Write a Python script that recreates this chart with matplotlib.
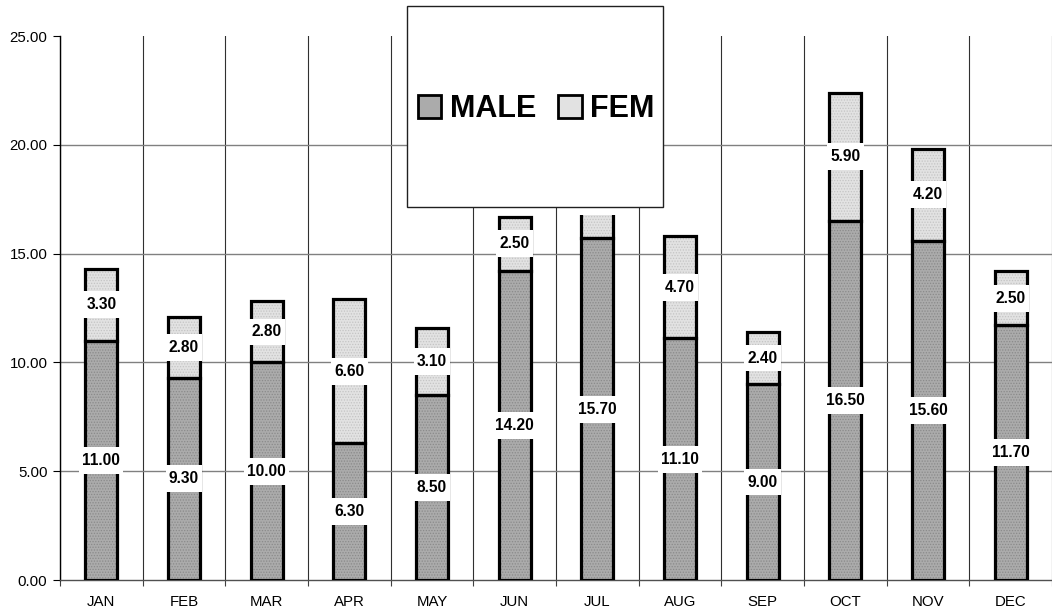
import matplotlib
matplotlib.use("Agg")
import matplotlib.pyplot as plt
import numpy as np
from matplotlib.patches import Patch, Rectangle
from matplotlib.path import Path

months = ["JAN", "FEB", "MAR", "APR", "MAY", "JUN", "JUL", "AUG", "SEP", "OCT", "NOV", "DEC"]
male = [11.00, 9.30, 10.00, 6.30, 8.50, 14.20, 15.70, 11.10, 9.00, 16.50, 15.60, 11.70]
fem = [3.30, 2.80, 2.80, 6.60, 3.10, 2.50, 3.40, 4.70, 2.40, 5.90, 4.20, 2.50]
yticks = [0, 5, 10, 15, 20, 25]
series_names = ["MALE", "FEM"]

plt.rcParams['font.family'] = ['Liberation Sans', 'DejaVu Sans']
plt.rcParams['hatch.linewidth'] = 0.6

MALE_C = "#ababab"
FEM_C = "#e2e2e2"
MALE_H = "#8a8a8a"
FEM_H = "#c4c4c4"

fig = plt.figure(figsize=(10.52, 6.13), dpi=100)
ax = fig.add_axes([60 / 1052, 33 / 613, 992 / 1052, 544 / 613])

x = np.arange(len(months))
w = 0.39
# fills with dotted texture
ax.bar(x, male, width=w, color=MALE_C, linewidth=0, zorder=2)
ax.bar(x, male, width=w, color="none", edgecolor=MALE_H, hatch="......", linewidth=0, zorder=2.5)
ax.bar(x, fem, width=w, bottom=male, color=FEM_C, linewidth=0, zorder=2)
ax.bar(x, fem, width=w, bottom=male, color="none", edgecolor=FEM_H, hatch="......", linewidth=0, zorder=2.5)
# outlines
ax.bar(x, male, width=w, color="none", edgecolor="black", linewidth=2.3, zorder=3)
ax.bar(x, fem, width=w, bottom=male, color="none", edgecolor="black", linewidth=2.3, zorder=3)


def label_box(x0, y0, width, height, mutation_size):
    px = 0.2 * mutation_size
    py = 0.38 * mutation_size
    verts = [(x0 - px, y0 - py), (x0 + width + px, y0 - py),
             (x0 + width + px, y0 + height + py), (x0 - px, y0 + height + py),
             (x0 - px, y0 - py)]
    codes = [Path.MOVETO, Path.LINETO, Path.LINETO, Path.LINETO, Path.CLOSEPOLY]
    return Path(verts, codes)


for xi, m, f in zip(x, male, fem):
    for val, ypos in ((m, m / 2), (f, m + f / 2)):
        ax.text(xi, ypos, f"{val:.2f}", ha="center", va="center", fontsize=11.2,
                fontweight="bold", zorder=5,
                bbox=dict(boxstyle=label_box, facecolor="white", edgecolor="none"))

ax.set_xlim(-0.5, len(months) - 0.5)
ax.set_ylim(0, 25)
ax.set_yticks(yticks)
ax.set_yticklabels([f"{v:.2f}" for v in yticks])
ax.set_xticks(x)
ax.set_xticklabels(months)
ax.set_xticks(np.arange(len(months) + 1) - 0.5, minor=True)

ax.tick_params(axis="x", which="major", length=0, pad=11, labelsize=10.8)
ax.tick_params(axis="x", which="minor", length=4, width=0.8, color="#404040", direction="out")
ax.tick_params(axis="y", which="major", length=5, width=0.8, pad=4, labelsize=10.8, direction="out")

ax.grid(axis="y", which="major", color="#808080", linewidth=1.0, zorder=0)
ax.grid(axis="x", which="minor", color="#303030", linewidth=0.8, zorder=0)
ax.set_axisbelow(True)
ygl = ax.yaxis.get_gridlines()
ygl[0].set_visible(False)
ygl[-1].set_visible(False)

for s in ("top", "right"):
    ax.spines[s].set_visible(False)
ax.spines["left"].set_color("black")
ax.spines["left"].set_linewidth(1.0)
ax.spines["bottom"].set_color("#505050")
ax.spines["bottom"].set_linewidth(1.0)

# legend box
fig.patches.append(Rectangle((407 / 1052, 1 - 207 / 613), 256 / 1052, 201 / 613,
                             transform=fig.transFigure, facecolor="white",
                             edgecolor="#202020", linewidth=1.0, zorder=4))
handles = [Patch(facecolor=MALE_C, edgecolor="black", linewidth=2.0),
           Patch(facecolor=FEM_C, edgecolor="black", linewidth=2.0)]
fig.legend(handles, series_names, loc="center", bbox_to_anchor=(536 / 1052, 1 - 109 / 613),
           bbox_transform=fig.transFigure, ncol=2, frameon=False,
           prop={"family": "Liberation Sans", "weight": "bold", "size": 22},
           handlelength=0.78, handleheight=0.78, handletextpad=0.27, columnspacing=0.72,
           borderpad=0)

fig.savefig("out.png", dpi=100)
